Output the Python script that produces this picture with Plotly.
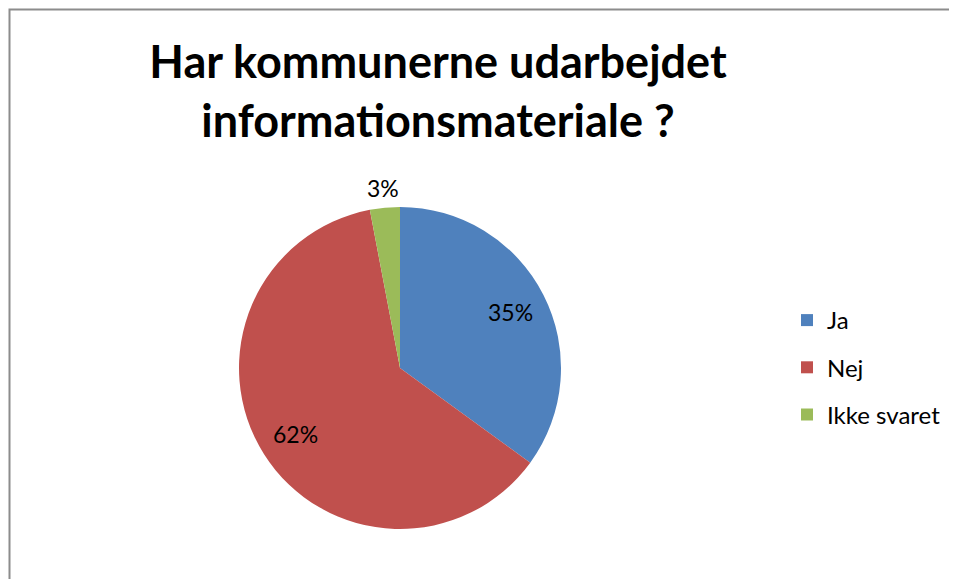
import math
import plotly.graph_objects as go

categories = ["Ja", "Nej", "Ikke svaret"]
values = [35, 62, 3]
colors = ["#4F81BD", "#C0504D", "#9BBB59"]
title_lines = ["Har kommunerne udarbejdet", "informationsmateriale ?"]

# page body has an 8px margin, so the figure is laid out 8px in from the window edge
OFF = 8
W, H = 957 - OFF, 579 - OFF
cx, cy, r = 400 - OFF, 368 - OFF, 161
FONT = "Lato"

fig = go.Figure()
fig.add_trace(go.Pie(
    labels=categories,
    values=values,
    marker=dict(colors=colors, line=dict(width=0)),
    sort=False,
    direction="clockwise",
    rotation=0,
    textinfo="none",
    showlegend=False,
    hoverinfo="label+percent",
    domain=dict(x=[(cx - r) / W, (cx + r) / W],
                y=[(H - cy - r) / H, (H - cy + r) / H]),
))

# data labels placed at each slice's mid-angle (derived from the values)
total = sum(values)
cum = 0
for v in values:
    frac = v / total
    mid = (cum + frac / 2) * 2 * math.pi
    cum += frac
    rr = r * (0.77 if frac > 0.1 else 1.12)
    px = cx + rr * math.sin(mid)
    py = cy - rr * math.cos(mid)
    fig.add_annotation(x=px / W, y=1 - py / H, xref="paper", yref="paper",
                       text=f"{round(frac * 100)}%", showarrow=False,
                       xanchor="center", yanchor="middle",
                       font=dict(family=FONT, size=23, color="black"))

for i, (cat, col) in enumerate(zip(categories, colors)):
    fig.add_trace(go.Scatter(
        x=[None], y=[None], mode="markers", name=cat,
        marker=dict(symbol="square", size=13, color=col),
        legendgroup=f"g{i}", showlegend=True,
    ))

fig.update_layout(
    width=W, height=H,
    margin=dict(l=0, r=0, t=0, b=0),
    paper_bgcolor="white", plot_bgcolor="white",
    xaxis=dict(visible=False), yaxis=dict(visible=False),
    title=dict(text="<br>".join(title_lines), x=430 / W, xanchor="center",
               y=1 - 70 / H, yanchor="top", yref="container",
               font=dict(family=FONT, size=45, color="black", weight="bold")),
    legend=dict(x=779 / W, y=1 - 290 / H, xanchor="left", yanchor="top",
                font=dict(family=FONT, size=24, color="black"),
                tracegroupgap=13, itemsizing="constant", bgcolor="rgba(0,0,0,0)"),
    shapes=[dict(type="rect", xref="paper", yref="paper",
                 x0=1.5 / W, x1=1.05, y0=-0.05, y1=1 - 1.5 / H,
                 line=dict(color="#8C8C8C", width=2), fillcolor="rgba(0,0,0,0)")],
)

fig.write_html("out.html")
